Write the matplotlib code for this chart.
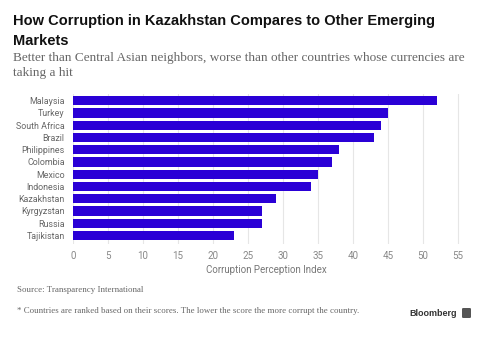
import matplotlib
matplotlib.use("Agg")
import matplotlib.pyplot as plt
from matplotlib.patches import FancyBboxPatch

countries = ["Malaysia", "Turkey", "South Africa", "Brazil", "Philippines", "Colombia",
             "Mexico", "Indonesia", "Kazakhstan", "Kyrgyzstan", "Russia", "Tajikistan"]
scores = [52, 45, 44, 43, 38, 37, 35, 34, 29, 27, 27, 23]
xticks = [0, 5, 10, 15, 20, 25, 30, 35, 40, 45, 50, 55]

W, H = 488, 337
fig = plt.figure(figsize=(W/100, H/100), dpi=100)
fig.patch.set_facecolor("white")

ax = fig.add_axes([73/W, 1-244/H, (460-73)/W, 150/H])
y = list(range(len(countries)))
ax.barh(y, scores, height=0.76, color="#2a00d6", zorder=3)
ax.set_ylim(11.7, -0.55)
ax.set_xlim(0, 55.3)
ax.set_yticks(y)
ax.set_yticklabels(countries, fontsize=6.4, color="#666666", family="Roboto")
ax.set_xticks(xticks)
ax.set_xticklabels([str(t) for t in xticks], fontsize=7, color="#888888", family="Roboto")
ax.tick_params(axis="y", length=0, pad=6)
ax.tick_params(axis="x", length=0, pad=5)
for s in ax.spines.values():
    s.set_visible(False)
ax.grid(axis="x", color="#e6e6e6", linewidth=0.8, zorder=0)
ax.set_xlabel("Corruption Perception Index", fontsize=7, color="#777777", labelpad=3,
              family="Roboto")

fig.text(13/W, 1-21/H, "How Corruption in Kazakhstan Compares to Other Emerging",
         fontsize=10.5, fontweight="bold", color="#111111", va="center", family="Liberation Sans")
fig.text(13/W, 1-41/H, "Markets", fontsize=10.5, fontweight="bold", color="#111111", va="center",
         family="Liberation Sans")
fig.text(13/W, 1-58/H, "Better than Central Asian neighbors, worse than other countries whose currencies are",
         fontsize=9.5, color="#666666", family="Liberation Serif", va="center")
fig.text(13/W, 1-73/H, "taking a hit", fontsize=9.5, color="#666666", family="Liberation Serif", va="center")
fig.text(17/W, 1-290/H, "Source: Transparency International", fontsize=6.4, color="#666666",
         family="Liberation Serif", va="center")
fig.text(17/W, 1-311/H, "* Countries are ranked based on their scores. The lower the score the more corrupt the country.",
         fontsize=6.4, color="#666666", family="Liberation Serif", va="center")
fig.text(409/W, 1-313/H, "Bloomberg", fontsize=6.5, fontweight="bold", color="#333333", va="center",
         family="Liberation Sans")
fig.patches.append(FancyBboxPatch((462/W, 1-318/H), 9/W, 10/H, boxstyle="round,pad=0,rounding_size=0.003",
                                  transform=fig.transFigure, facecolor="#555555", edgecolor="none"))

fig.savefig("out.png", dpi=100)
